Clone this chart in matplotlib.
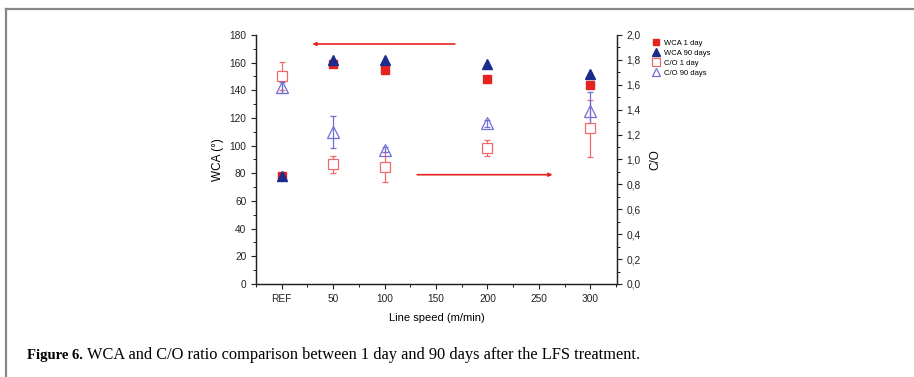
import matplotlib.pyplot as plt
from matplotlib.ticker import MultipleLocator, FuncFormatter

plt.rcParams['font.family'] = ['Liberation Sans', 'DejaVu Sans']

# line speed positions (REF plotted at 0)
speed = [0, 50, 100, 200, 300]
xtick_pos = [0, 50, 100, 150, 200, 250, 300]
xtick_lab = ['REF', '50', '100', '150', '200', '250', '300']

wca_1d = [78, 159, 155, 148, 144]
wca_90d = [78, 162, 162, 159, 152]

co_1d = [1.67, 0.96, 0.94, 1.09, 1.25]
co_1d_err = [0.11, 0.065, 0.12, 0.065, 0.23]
co_90d = [1.58, 1.22, 1.08, 1.29, 1.39]
co_90d_err = [0.045, 0.13, 0.02, 0.03, 0.15]

red = '#e5231f'
navy = '#1c2c8c'
lred = '#f06a6a'
lblue = '#6f6fd6'

fig = plt.figure(figsize=(9.14, 3.77), dpi=100)
ax = fig.add_axes([0.2801, 0.2467, 0.395, 0.6605])
ax2 = ax.twinx()

h1, = ax.plot(speed, wca_1d, 's', color=red, ms=5.5, ls='none')
h2, = ax.plot(speed, wca_90d, '^', color=navy, ms=6.5, ls='none')
e3 = ax2.errorbar(speed, co_1d, yerr=co_1d_err, fmt='s', mfc='white', mec=lred,
                  ecolor=lred, ms=6.5, mew=0.9, capsize=2.5, elinewidth=0.9)
e4 = ax2.errorbar(speed, co_90d, yerr=co_90d_err, fmt='^', mfc='none', mec=lblue,
                  ecolor=lblue, ms=8, mew=0.9, capsize=2.5, elinewidth=0.9)
# filled markers on top
ax.set_zorder(ax2.get_zorder() + 1)
ax.patch.set_visible(False)

# arrows
ax.annotate('', xy=(27, 173.5), xytext=(171, 173.5),
            arrowprops=dict(arrowstyle='-|>', color=red, lw=1.2, mutation_scale=5))
ax.annotate('', xy=(266, 79), xytext=(129, 79),
            arrowprops=dict(arrowstyle='-|>', color=red, lw=1.2, mutation_scale=5))

ax.set_xlim(-25, 326)
ax.set_ylim(0, 180)
ax2.set_ylim(0, 2.0)
ax.set_xticks(xtick_pos)
ax.set_xticklabels(xtick_lab)
ax.xaxis.set_minor_locator(MultipleLocator(25))
ax.yaxis.set_major_locator(MultipleLocator(20))
ax.yaxis.set_minor_locator(MultipleLocator(10))
ax2.yaxis.set_major_locator(MultipleLocator(0.2))
ax2.yaxis.set_minor_locator(MultipleLocator(0.1))
ax2.yaxis.set_major_formatter(FuncFormatter(lambda v, p: f'{v:.1f}'.replace('.', ',')))

for a in (ax, ax2):
    a.tick_params(which='major', direction='out', length=3.5, width=0.8, labelsize=7.3, colors='#222222')
    a.tick_params(which='minor', direction='out', length=2, width=0.7, colors='#222222')
    for s in a.spines.values():
        s.set_linewidth(0.9)
        s.set_color('#222222')
ax.spines['top'].set_visible(False)
ax2.spines['top'].set_visible(False)

ax.set_xlabel('Line speed (m/min)', fontsize=8, labelpad=7)
ax.set_ylabel('WCA (°)', fontsize=8.5, labelpad=4)
ax2.set_ylabel('C/O', fontsize=8.5, labelpad=6)

ax.legend([h1, h2, e3[0], e4[0]], ['WCA 1 day', 'WCA 90 days', 'C/O 1 day', 'C/O 90 days'],
          loc='upper left', bbox_to_anchor=(1.085, 1.0), frameon=False, fontsize=5.5,
          handlelength=1.0, handletextpad=0.5, labelspacing=0.35, borderaxespad=0.2,
          markerscale=0.8)

# grey frame lines of the figure panel
fig.add_artist(plt.Line2D([6 / 914, 1.0], [1 - 9 / 377, 1 - 9 / 377], color='#888888', lw=1.6))
fig.add_artist(plt.Line2D([6 / 914, 6 / 914], [0, 1 - 9 / 377], color='#888888', lw=1.6))

# caption: bold label, then regular text placed just after it
cap_y = 1 - 355 / 377
t_bold = fig.text(27 / 914, cap_y, 'Figure 6.', fontsize=10.5, va='center',
                  family='Liberation Serif', fontweight='bold')
fig.canvas.draw()
bb = t_bold.get_window_extent()
fig.text((bb.x1 + 4) / 914, cap_y,
         'WCA and C/O ratio comparison between 1 day and 90 days after the LFS treatment.',
         fontsize=11.8, va='center', family='Liberation Serif')

fig.savefig('out.png', dpi=100)
